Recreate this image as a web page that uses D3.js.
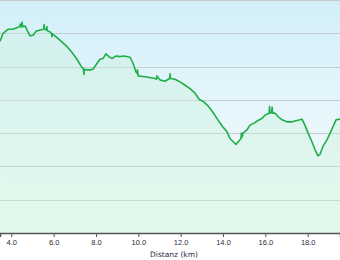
<!DOCTYPE html>
<html>
<head>
<meta charset="utf-8">
<script src="https://cdn.jsdelivr.net/npm/d3@7"></script>
<style>
  body { margin: 0; background: #fff; }
  svg { display: block; font-family: "DejaVu Sans", Verdana, sans-serif; }
</style>
</head>
<body>
<script>
// distance along the track (km) and elevation (m)
var distKm = [3.47, 3.61, 3.84, 4.08, 4.32, 4.40, 4.42, 4.44, 4.49, 4.51, 4.53, 4.65, 4.74,
  4.88, 5.03, 5.17, 5.36, 5.53, 5.55, 5.57, 5.66, 5.68, 5.70, 5.83, 5.90, 5.92, 5.94, 6.06,
  6.21, 6.39, 6.63, 6.87, 7.10, 7.29, 7.41, 7.43, 7.45, 7.58, 7.72, 7.86, 8.05, 8.19, 8.33,
  8.47, 8.61, 8.76, 8.95, 9.14, 9.32, 9.61, 9.75, 9.89, 9.94, 9.96, 9.99, 10.22, 10.46, 10.79,
  10.86, 10.88, 11.02, 11.26, 11.48, 11.50, 11.52, 11.73, 11.97, 12.21, 12.44, 12.68, 12.87,
  13.10, 13.29, 13.53, 13.76, 13.95, 14.19, 14.33, 14.52, 14.61, 14.80, 14.85, 14.87, 14.89,
  14.95, 15.13, 15.28, 15.47, 15.65, 15.84, 15.98, 16.18, 16.20, 16.22, 16.30, 16.32, 16.34,
  16.46, 16.60, 16.79, 17.02, 17.26, 17.50, 17.73, 17.87, 18.02, 18.20, 18.35, 18.49, 18.58,
  18.72, 18.91, 19.06, 19.20, 19.34, 19.53];
var elevM = [588, 600, 606, 606, 609, 610, 614, 610, 610, 617, 610, 611, 605,
  596, 597, 603, 605, 606, 613, 606, 605, 610, 604, 602, 600, 595, 599, 596,
  592, 587, 580, 571, 561, 551, 546, 538, 546, 545, 545, 546, 555, 561, 562,
  569, 565, 562, 566, 565, 566, 564, 555, 542, 540, 545, 536, 535, 534, 532,
  531, 536, 530, 528, 532, 539, 532, 531, 527, 522, 517, 510, 501,
  497, 491, 481, 470, 461, 452, 442, 436, 433, 440, 442, 450, 444,
  450, 455, 462, 465, 469, 472, 477, 480, 490, 480, 481, 489, 480,
  480, 475, 470, 467, 467, 469, 471, 462, 450, 437, 425, 416, 418,
  430, 440, 450, 460, 470, 471];

var xTicks = [4, 6, 8, 10, 12, 14, 16, 18];
var yTicks = [350, 400, 450, 500, 550, 600, 650];
var xLabel = "Distanz  (km)";

var w = 340, h = 260;
var plotBottom = 233;

var svg = d3.select("body").append("svg")
  .attr("width", w)
  .attr("height", h);

// background gradient of the plot area
var defs = svg.append("defs");
var grad = defs.append("linearGradient")
  .attr("id", "bg")
  .attr("x1", 0).attr("y1", 0).attr("x2", 0).attr("y2", 1);
grad.append("stop").attr("offset", "0%").attr("stop-color", "#d2eff9");
grad.append("stop").attr("offset", "55%").attr("stop-color", "#e9f7fc");
grad.append("stop").attr("offset", "100%").attr("stop-color", "#f2fdf6");

var x = d3.scaleLinear().domain([3.466, 19.527]).range([0, w]);
var y = d3.scaleLinear().domain([300, 650]).range([plotBottom, 0]);

svg.append("rect")
  .attr("x", 0).attr("y", 0)
  .attr("width", w).attr("height", plotBottom)
  .attr("fill", "url(#bg)");

// horizontal grid lines
svg.append("g")
  .selectAll("line")
  .data(yTicks)
  .enter().append("line")
  .attr("x1", 0).attr("x2", w)
  .attr("y1", function(d) { return Math.round(y(d)) + 0.5; })
  .attr("y2", function(d) { return Math.round(y(d)) + 0.5; })
  .attr("stroke", "#c6ccd0")
  .attr("stroke-width", 1.2);

var pts = distKm.map(function(d, i) { return [d, elevM[i]]; });

// area under the profile
var area = d3.area()
  .x(function(d) { return x(d[0]); })
  .y0(plotBottom)
  .y1(function(d) { return y(d[1]); });

svg.append("path")
  .datum(pts)
  .attr("d", area)
  .attr("fill", "#c8f2d8")
  .attr("fill-opacity", 0.35);

var line = d3.line()
  .x(function(d) { return x(d[0]); })
  .y(function(d) { return y(d[1]); });

svg.append("path")
  .datum(pts)
  .attr("d", line)
  .attr("fill", "none")
  .attr("stroke", "#1fae48")
  .attr("stroke-width", 1.6)
  .attr("stroke-linejoin", "round");

// x axis
var xAxis = d3.axisBottom(x)
  .tickValues(xTicks)
  .tickFormat(d3.format(".1f"))
  .tickSize(4)
  .tickPadding(3);

var gx = svg.append("g")
  .attr("transform", "translate(0," + plotBottom + ")")
  .call(xAxis);
gx.select(".domain").attr("stroke", "#555").attr("stroke-width", 1.5);
gx.selectAll(".tick line").attr("stroke", "#555");
gx.selectAll(".tick text")
  .attr("fill", "#2a2a3a")
  .style("font-size", "7.5px");

svg.append("text")
  .attr("x", 174)
  .attr("y", 257)
  .attr("text-anchor", "middle")
  .attr("fill", "#2a2a3a")
  .style("font-size", "7.5px")
  .text(xLabel);
</script>
</body>
</html>
